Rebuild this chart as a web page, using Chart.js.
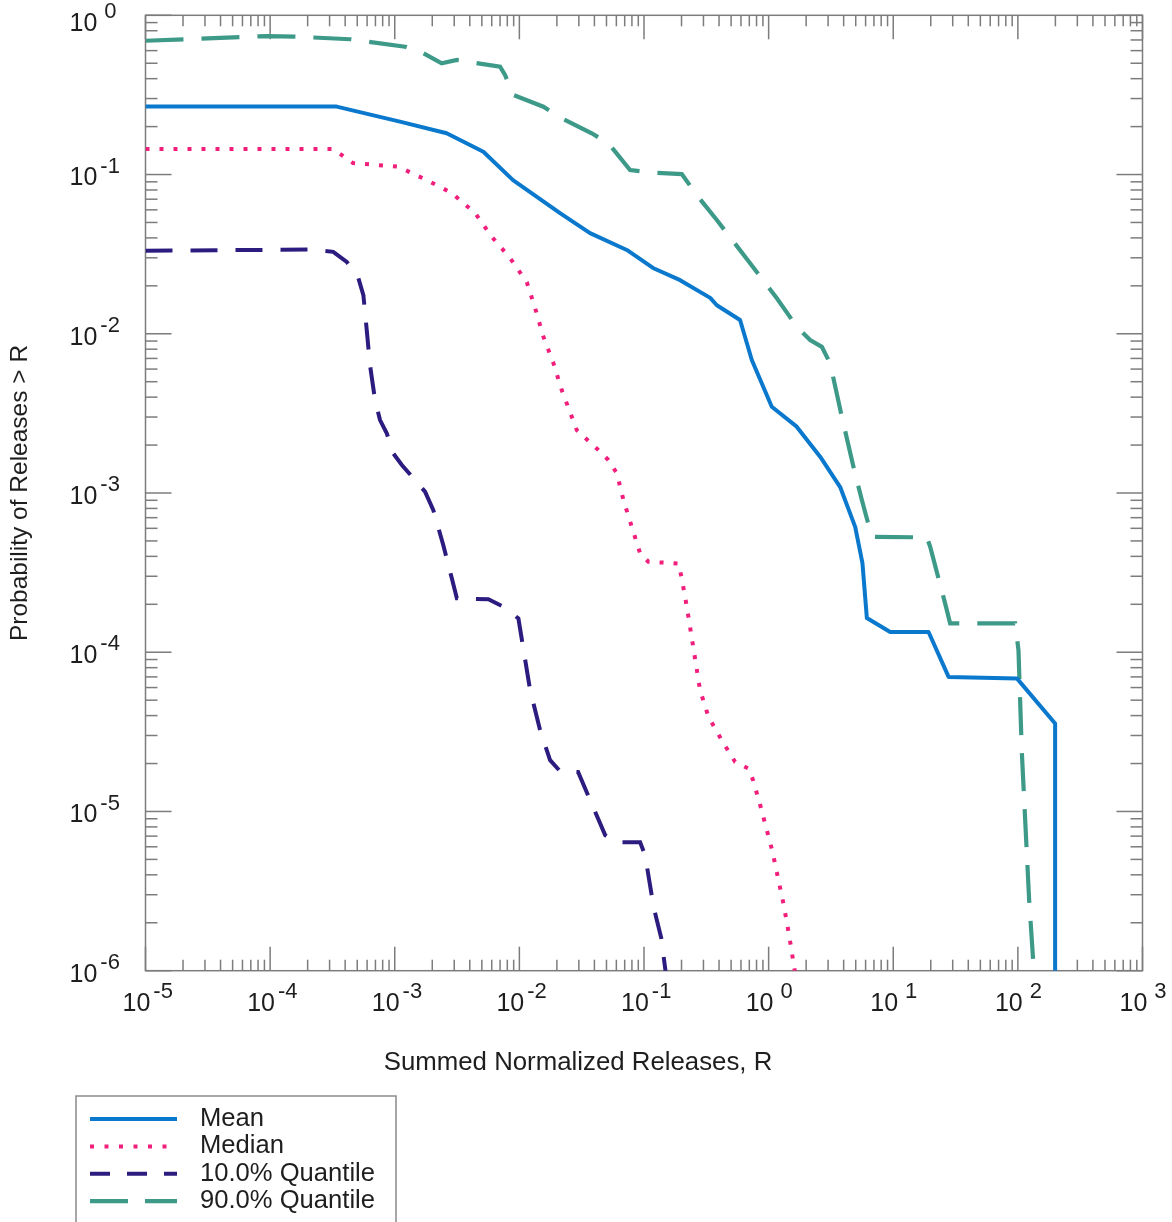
<!DOCTYPE html>
<html>
<head>
<meta charset="utf-8">
<script src="https://cdn.jsdelivr.net/npm/chart.js@4.4.0/dist/chart.umd.min.js"></script>
<style>
  html, body { margin: 0; padding: 0; background: #fff; }
  canvas { display: block; }
</style>
</head>
<body>
<canvas id="chart" width="1172" height="1222"></canvas>
<script>
// values (R, probability of releases > R)
const meanR = [1e-5, 3.42e-4, 1.10e-3, 2.61e-3, 5.14e-3, 8.89e-3, 0.0212, 0.0369, 0.0728, 0.118, 0.195, 0.340, 0.384, 0.590, 0.733, 1.06, 1.68, 2.59, 3.75, 4.95, 5.66, 6.14, 9.45, 19.2, 27.8, 98.2, 199, 199];
const meanP = [0.267, 0.267, 0.215, 0.1815, 0.139, 0.0923, 0.0573, 0.0429, 0.0336, 0.0259, 0.0217, 0.0168, 0.0151, 0.0122, 0.00684, 0.00348, 0.00261, 0.00169, 0.00109, 6.13e-4, 3.63e-4, 1.64e-4, 1.34e-4, 1.34e-4, 7.0e-5, 6.85e-5, 3.57e-5, 1e-7];

const medianR = [1e-5, 3.20e-4, 4.63e-4, 1.063e-3, 1.81e-3, 2.87e-3, 4.41e-3, 6.0e-3, 8.42e-3, 0.01147, 0.01337, 0.01558, 0.01875, 0.02188, 0.02633, 0.0289, 0.0431, 0.0518, 0.0605, 0.0684, 0.0798, 0.093, 0.1084, 0.1888, 0.201, 0.2206, 0.2818, 0.329, 0.4335, 0.538, 0.689, 0.751, 0.855, 1.067, 1.327, 1.472, 1.69];
const medianP = [0.1446, 0.1446, 0.118, 0.112, 0.0923, 0.0765, 0.0573, 0.0407, 0.0299, 0.0211, 0.0145, 9.58e-3, 6.55e-3, 4.43e-3, 3.01e-3, 2.48e-3, 1.86e-3, 1.61e-3, 1.33e-3, 9.03e-4, 6.13e-4, 4.19e-4, 3.70e-4, 3.61e-4, 2.91e-4, 1.93e-4, 5.78e-5, 3.93e-5, 2.69e-5, 2.05e-5, 1.86e-5, 1.57e-5, 1.10e-5, 5.71e-6, 2.55e-6, 1.61e-6, 8.1e-7];

const q10R = [1e-5, 2.16e-4, 3.21e-4, 4.12e-4, 5.11e-4, 5.60e-4, 5.96e-4, 6.33e-4, 6.95e-4, 7.62e-4, 8.63e-4, 9.75e-4, 1.14e-3, 1.41e-3, 1.75e-3, 2.04e-3, 2.45e-3, 2.87e-3, 3.15e-3, 5.64e-3, 7.45e-3, 9.82e-3, 0.0122, 0.01466, 0.01764, 0.0212, 0.0296, 0.0369, 0.0488, 0.0586, 0.0931, 0.102, 0.1197, 0.1374, 0.156];
const q10P = [0.0332, 0.0338, 0.0327, 0.0283, 0.0223, 0.0175, 0.01055, 6.36e-3, 3.83e-3, 2.87e-3, 2.37e-3, 1.77e-3, 1.50e-3, 1.24e-3, 1.02e-3, 7.81e-4, 4.71e-4, 2.91e-4, 2.18e-4, 2.15e-4, 1.93e-4, 1.63e-4, 5.78e-5, 3.24e-5, 2.10e-5, 1.79e-5, 1.77e-5, 1.18e-5, 7.10e-6, 6.41e-6, 6.41e-6, 5.32e-6, 2.49e-6, 1.61e-6, 7.5e-7];

const q90R = [1e-5, 9.39e-5, 1.635e-4, 4.38e-4, 1.21e-3, 1.70e-3, 2.38e-3, 3.15e-3, 7.0e-3, 7.67e-3, 8.95e-3, 0.01558, 0.02189, 0.0381, 0.0518, 0.0773, 0.119, 0.201, 0.2653, 0.384, 0.7103, 1.164, 1.684, 2.153, 2.673, 3.116, 3.869, 4.793, 5.6, 6.73, 18.6, 19.8, 26.1, 28.6, 95.1, 101.1, 107.7, 123.2, 135.2, 140];
const q90P = [0.692, 0.741, 0.734, 0.707, 0.635, 0.577, 0.4995, 0.524, 0.4755, 0.4217, 0.3157, 0.2666, 0.2254, 0.1815, 0.157, 0.1067, 0.1026, 0.1007, 0.0743, 0.0518, 0.0277, 0.0167, 0.01107, 9.13e-3, 8.28e-3, 6.52e-3, 3.01e-3, 1.46e-3, 9.03e-4, 5.31e-4, 5.26e-4, 4.59e-4, 2.02e-4, 1.52e-4, 1.52e-4, 1.03e-4, 2.31e-5, 2.77e-6, 9.3e-7, 5e-7];

const seriesLabels = ['Mean', 'Median', '10.0% Quantile', '90.0% Quantile'];
const xExponents = [-5, -4, -3, -2, -1, 0, 1, 2, 3];
const yExponents = [-6, -5, -4, -3, -2, -1, 0];
const xTitle = 'Summed Normalized Releases, R';
const yTitle = 'Probability of Releases > R';

const FONT = '"Liberation Sans", Arial, Helvetica, sans-serif';
const toPoints = (xs, ys) => xs.map((x, i) => ({ x, y: ys[i] }));

const data = {
    datasets: [{
        label: seriesLabels[0],
        data: toPoints(meanR, meanP),
        borderColor: '#0a79cd',
        borderWidth: 4,
        borderJoinStyle: 'round',
    }, {
        label: seriesLabels[1],
        data: toPoints(medianR, medianP),
        borderColor: '#f01f7c',
        borderWidth: 4,
        borderDash: [4, 10],
    }, {
        label: seriesLabels[2],
        data: toPoints(q10R, q10P),
        borderColor: '#2d1c80',
        borderWidth: 4,
        borderDash: [27, 18],
    }, {
        label: seriesLabels[3],
        data: toPoints(q90R, q90P),
        borderColor: '#3e9a88',
        borderWidth: 4.2,
        borderDash: [38, 18],
    }]
};

const legendDash = [[], [4, 10.5], [20, 17], [38, 17]];

function line(ctx, x1, y1, x2, y2) {
    ctx.beginPath();
    ctx.moveTo(x1, y1);
    ctx.lineTo(x2, y2);
    ctx.stroke();
}

// 10 with a raised exponent, "10" starts at left
function drawPower(ctx, exp, left, y) {
    ctx.textAlign = 'left';
    ctx.textBaseline = 'middle';
    ctx.font = '25px ' + FONT;
    ctx.fillText('10', left, y);
    const w = ctx.measureText('10').width;
    ctx.font = '22px ' + FONT;
    ctx.fillText(String(exp), left + w + (exp < 0 ? 3 : 7), y - 12);
}

const frame = {
    id: 'frame',
    beforeDatasetsDraw(chart) {
        const { ctx, chartArea: a, scales: { x, y } } = chart;
        ctx.save();
        ctx.strokeStyle = '#7c7c7c';
        ctx.lineWidth = 1.5;
        ctx.strokeRect(a.left, a.top, a.right - a.left, a.bottom - a.top);

        for (let e = xExponents[0]; e <= xExponents[xExponents.length - 1]; e++) {
            for (let m = 1; m < 10; m++) {
                const v = m * Math.pow(10, e);
                if (v > x.max * 1.0001) break;
                const px = x.getPixelForValue(v);
                const len = m === 1 ? 24 : 11;
                line(ctx, px, a.bottom, px, a.bottom - len);
                line(ctx, px, a.top, px, a.top + len);
            }
        }
        for (let e = yExponents[0]; e <= yExponents[yExponents.length - 1]; e++) {
            for (let m = 1; m < 10; m++) {
                const v = m * Math.pow(10, e);
                if (v > y.max * 1.0001) break;
                const py = y.getPixelForValue(v);
                const len = m === 1 ? 26 : 12;
                line(ctx, a.left, py, a.left + len, py);
                line(ctx, a.right, py, a.right - len, py);
            }
        }
        ctx.restore();
    },
    afterDraw(chart) {
        const { ctx, chartArea: a, scales: { x, y } } = chart;
        ctx.save();
        ctx.fillStyle = '#1e1e1e';

        xExponents.forEach(e => {
            drawPower(ctx, e, x.getPixelForValue(Math.pow(10, e)) - 23, a.bottom + 33);
        });
        yExponents.forEach(e => {
            const py = Math.max(y.getPixelForValue(Math.pow(10, e)) + 4, 24);
            drawPower(ctx, e, a.left - 76, py);
        });

        ctx.font = '25.8px ' + FONT;
        ctx.textAlign = 'center';
        ctx.textBaseline = 'middle';
        ctx.fillText(xTitle, 578, a.bottom + 92);

        ctx.save();
        ctx.translate(20, 493);
        ctx.rotate(-Math.PI / 2);
        ctx.font = '24.5px ' + FONT;
        ctx.fillText(yTitle, 0, 0);
        ctx.restore();

        // legend box
        ctx.strokeStyle = '#8a8a8a';
        ctx.lineWidth = 1.5;
        ctx.strokeRect(76, 1096, 320, 140);
        chart.data.datasets.forEach((ds, i) => {
            const ly = 1119 + i * 27.4;
            ctx.strokeStyle = ds.borderColor;
            ctx.lineWidth = ds.borderWidth;
            ctx.setLineDash(legendDash[i]);
            line(ctx, 90, ly, 177, ly);
            ctx.setLineDash([]);
            ctx.fillStyle = '#1e1e1e';
            ctx.font = '25.6px ' + FONT;
            ctx.textAlign = 'left';
            ctx.fillText(ds.label, 200, ly);
        });
        ctx.restore();
    }
};

const config = {
    type: 'line',
    data,
    options: {
        responsive: false,
        animation: false,
        layout: {
            padding: { left: 145.5, top: 15.3, right: 29.5, bottom: 251.3 }
        },
        elements: {
            point: { radius: 0 },
            line: { tension: 0, fill: false, borderCapStyle: 'butt' }
        },
        scales: {
            x: { type: 'logarithmic', min: 1e-5, max: 1e3, display: false },
            y: { type: 'logarithmic', min: 1e-6, max: 1, display: false }
        },
        plugins: {
            legend: { display: false },
            tooltip: { enabled: false }
        }
    },
    plugins: [frame]
};

const myChart = new Chart(document.getElementById('chart'), config);
</script>
</body>
</html>
